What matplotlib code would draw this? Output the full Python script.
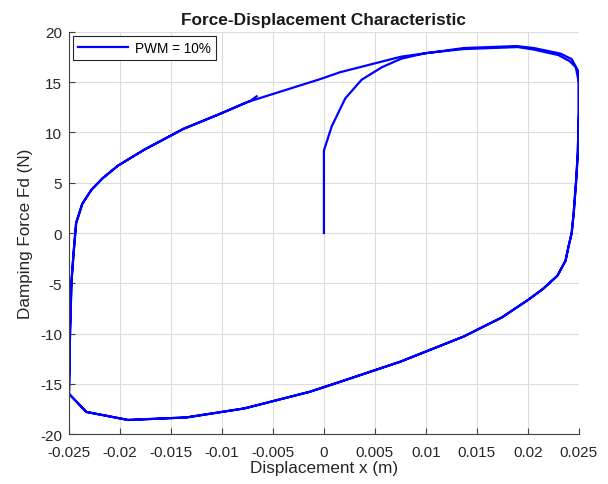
import matplotlib
matplotlib.use("Agg")
import matplotlib.pyplot as plt
import numpy as np

plt.rcParams['font.family'] = ['Liberation Sans', 'DejaVu Sans']
plt.rcParams['axes.unicode_minus'] = False

# initial transient from rest (x in m, force in N)
start_x = [0.0, 0.0, 0.00076, 0.0021, 0.0037, 0.0057, 0.0076, 0.0100, 0.0137,
           0.0190, 0.0206, 0.0230, 0.0241, 0.0247, 0.0250]
start_f = [0.0, 8.2, 10.6, 13.4, 15.25, 16.5, 17.35, 17.9, 18.3,
           18.5, 18.25, 17.7, 17.1, 16.5, 15.0]

# right edge down and lower branch (moving left)
down_x = [0.02500, 0.02490, 0.02475, 0.0245, 0.0243, 0.0240, 0.0237, 0.0229,
          0.0215, 0.0201, 0.01745, 0.0137, 0.0075, 0.0016, -0.0014, -0.0078,
          -0.0135, -0.0192, -0.0233, -0.0250]
down_f = [12.0, 8.0, 5.4, 2.0, 0.0, -1.3, -2.75, -4.25,
          -5.55, -6.6, -8.4, -10.3, -12.8, -14.8, -15.8, -17.45,
          -18.35, -18.6, -17.8, -16.0]

# left edge up and upper branch (moving right)
up_x = [-0.02490, -0.02476, -0.02456, -0.0243, -0.0237, -0.0228, -0.0217,
        -0.0202, -0.0176, -0.0138, -0.0102, -0.0076, -0.0004, 0.0016, 0.0076,
        0.0137, 0.0189, 0.0206, 0.0232, 0.0243, 0.0250, 0.0250]
up_f = [-10.0, -4.9, -2.1, 1.0, 2.9, 4.3, 5.45,
        6.7, 8.3, 10.35, 11.85, 13.0, 15.3, 16.0, 17.55,
        18.4, 18.6, 18.4, 17.85, 17.3, 16.0, 15.0]

# final points of the record
end_x = [-0.0072, -0.0066]
end_f = [13.15, 13.6]

n_up_last = 11  # last pass stops partway along the upper branch

x = np.concatenate([start_x, down_x, up_x, down_x, up_x[:n_up_last], end_x])
f = np.concatenate([start_f, down_f, up_f, down_f, up_f[:n_up_last], end_f])

fig = plt.figure(figsize=(6.08, 4.85), dpi=100)
ax = fig.add_axes([0.1135, 0.103, 0.8385, 0.829])
ax.plot(x, f, color='#0000FF', linewidth=1.6, label='PWM = 10%')

ax.set_xlim(-0.025, 0.025)
ax.set_ylim(-20, 20)
ax.set_xticks(np.arange(-0.025, 0.0251, 0.005))
ax.set_xticklabels(['-0.025', '-0.02', '-0.015', '-0.01', '-0.005', '0',
                    '0.005', '0.01', '0.015', '0.02', '0.025'])
ax.set_yticks(np.arange(-20, 21, 5))
ax.grid(True, color='#dcdcdc', linewidth=0.8)
ax.set_axisbelow(True)
for s in ['top', 'right']:
    ax.spines[s].set_visible(False)
for s in ['left', 'bottom']:
    ax.spines[s].set_color('#404040')
    ax.spines[s].set_linewidth(0.8)
ax.tick_params(direction='in', length=4, colors='#404040', labelcolor='#262626',
               labelsize=11)
ax.tick_params(axis='x', pad=8)
ax.tick_params(axis='y', pad=5)

ax.set_title('Force-Displacement Characteristic', fontsize=12.4, fontweight='bold',
             color='#1a1a1a', pad=6)
ax.set_xlabel('Displacement x (m)', fontsize=12.3, color='#262626', labelpad=0.5)
ax.set_ylabel('Damping Force Fd (N)', fontsize=12.3, color='#262626', labelpad=5)

leg = ax.legend(loc='upper left', fontsize=9.8, fancybox=False, framealpha=1,
                edgecolor='#262626', borderaxespad=0.3, handlelength=3.7,
                borderpad=0.35, handletextpad=0.5)
leg.get_frame().set_linewidth(0.8)

fig.savefig('out.png', dpi=100)
